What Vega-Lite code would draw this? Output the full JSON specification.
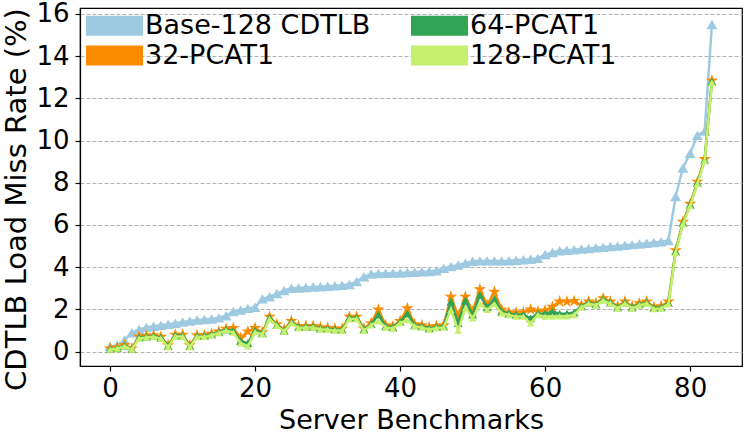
{
  "$schema": "https://vega.github.io/schema/vega-lite/v6.json",
  "width": 662,
  "height": 358,
  "autosize": {"type": "none"},
  "padding": {"left": 80, "top": 8, "right": 5, "bottom": 72},
  "config": {
    "font": "DejaVu Sans",
    "view": {"stroke": "black", "strokeWidth": 1.2},
    "axis": {"labelColor": "black", "titleColor": "black", "tickColor": "black", "domainColor": "black", "titleFontWeight": "normal", "domainWidth": 1.2, "tickWidth": 1.2}
  },
  "data": {
    "values": [
      {"i":0,"Base-128 CDTLB":0.25,"32-PCAT1":0.15,"64-PCAT1":0.12,"128-PCAT1":0.1},
      {"i":1,"Base-128 CDTLB":0.3,"32-PCAT1":0.2,"64-PCAT1":0.17,"128-PCAT1":0.15},
      {"i":2,"Base-128 CDTLB":0.55,"32-PCAT1":0.32,"64-PCAT1":0.28,"128-PCAT1":0.25},
      {"i":3,"Base-128 CDTLB":0.9,"32-PCAT1":0.15,"64-PCAT1":0.12,"128-PCAT1":0.1},
      {"i":4,"Base-128 CDTLB":1.05,"32-PCAT1":0.72,"64-PCAT1":0.68,"128-PCAT1":0.63},
      {"i":5,"Base-128 CDTLB":1.15,"32-PCAT1":0.75,"64-PCAT1":0.7,"128-PCAT1":0.67},
      {"i":6,"Base-128 CDTLB":1.2,"32-PCAT1":0.78,"64-PCAT1":0.74,"128-PCAT1":0.7},
      {"i":7,"Base-128 CDTLB":1.25,"32-PCAT1":0.7,"64-PCAT1":0.66,"128-PCAT1":0.62},
      {"i":8,"Base-128 CDTLB":1.3,"32-PCAT1":0.3,"64-PCAT1":0.26,"128-PCAT1":0.22},
      {"i":9,"Base-128 CDTLB":1.35,"32-PCAT1":0.8,"64-PCAT1":0.76,"128-PCAT1":0.72},
      {"i":10,"Base-128 CDTLB":1.4,"32-PCAT1":0.8,"64-PCAT1":0.76,"128-PCAT1":0.72},
      {"i":11,"Base-128 CDTLB":1.45,"32-PCAT1":0.3,"64-PCAT1":0.26,"128-PCAT1":0.22},
      {"i":12,"Base-128 CDTLB":1.5,"32-PCAT1":0.78,"64-PCAT1":0.74,"128-PCAT1":0.7},
      {"i":13,"Base-128 CDTLB":1.52,"32-PCAT1":0.78,"64-PCAT1":0.74,"128-PCAT1":0.7},
      {"i":14,"Base-128 CDTLB":1.55,"32-PCAT1":0.85,"64-PCAT1":0.82,"128-PCAT1":0.78},
      {"i":15,"Base-128 CDTLB":1.6,"32-PCAT1":0.95,"64-PCAT1":0.92,"128-PCAT1":0.88},
      {"i":16,"Base-128 CDTLB":1.7,"32-PCAT1":1.08,"64-PCAT1":1.04,"128-PCAT1":1.0},
      {"i":17,"Base-128 CDTLB":1.9,"32-PCAT1":1.12,"64-PCAT1":0.98,"128-PCAT1":0.9},
      {"i":18,"Base-128 CDTLB":1.97,"32-PCAT1":0.65,"64-PCAT1":0.5,"128-PCAT1":0.4},
      {"i":19,"Base-128 CDTLB":2.05,"32-PCAT1":0.95,"64-PCAT1":0.4,"128-PCAT1":0.25},
      {"i":20,"Base-128 CDTLB":2.1,"32-PCAT1":1.12,"64-PCAT1":1.0,"128-PCAT1":0.92},
      {"i":21,"Base-128 CDTLB":2.5,"32-PCAT1":0.92,"64-PCAT1":0.87,"128-PCAT1":0.83},
      {"i":22,"Base-128 CDTLB":2.6,"32-PCAT1":1.65,"64-PCAT1":1.6,"128-PCAT1":1.55},
      {"i":23,"Base-128 CDTLB":2.75,"32-PCAT1":1.3,"64-PCAT1":1.26,"128-PCAT1":1.22},
      {"i":24,"Base-128 CDTLB":2.9,"32-PCAT1":1.05,"64-PCAT1":1.0,"128-PCAT1":0.97},
      {"i":25,"Base-128 CDTLB":3.0,"32-PCAT1":1.45,"64-PCAT1":1.4,"128-PCAT1":1.36},
      {"i":26,"Base-128 CDTLB":3.02,"32-PCAT1":1.2,"64-PCAT1":1.16,"128-PCAT1":1.12},
      {"i":27,"Base-128 CDTLB":3.04,"32-PCAT1":1.22,"64-PCAT1":1.18,"128-PCAT1":1.14},
      {"i":28,"Base-128 CDTLB":3.06,"32-PCAT1":1.22,"64-PCAT1":1.18,"128-PCAT1":1.14},
      {"i":29,"Base-128 CDTLB":3.08,"32-PCAT1":1.15,"64-PCAT1":1.1,"128-PCAT1":1.06},
      {"i":30,"Base-128 CDTLB":3.1,"32-PCAT1":1.12,"64-PCAT1":1.08,"128-PCAT1":1.04},
      {"i":31,"Base-128 CDTLB":3.12,"32-PCAT1":1.1,"64-PCAT1":1.05,"128-PCAT1":1.0},
      {"i":32,"Base-128 CDTLB":3.15,"32-PCAT1":1.08,"64-PCAT1":1.04,"128-PCAT1":1.0},
      {"i":33,"Base-128 CDTLB":3.18,"32-PCAT1":1.65,"64-PCAT1":1.6,"128-PCAT1":1.55},
      {"i":34,"Base-128 CDTLB":3.32,"32-PCAT1":1.65,"64-PCAT1":1.6,"128-PCAT1":1.55},
      {"i":35,"Base-128 CDTLB":3.55,"32-PCAT1":1.1,"64-PCAT1":1.05,"128-PCAT1":1.0},
      {"i":36,"Base-128 CDTLB":3.68,"32-PCAT1":1.35,"64-PCAT1":1.3,"128-PCAT1":1.25},
      {"i":37,"Base-128 CDTLB":3.7,"32-PCAT1":2.0,"64-PCAT1":1.75,"128-PCAT1":1.45},
      {"i":38,"Base-128 CDTLB":3.71,"32-PCAT1":1.25,"64-PCAT1":1.2,"128-PCAT1":1.15},
      {"i":39,"Base-128 CDTLB":3.72,"32-PCAT1":1.2,"64-PCAT1":1.15,"128-PCAT1":1.1},
      {"i":40,"Base-128 CDTLB":3.73,"32-PCAT1":1.45,"64-PCAT1":1.4,"128-PCAT1":1.35},
      {"i":41,"Base-128 CDTLB":3.75,"32-PCAT1":2.05,"64-PCAT1":1.8,"128-PCAT1":1.5},
      {"i":42,"Base-128 CDTLB":3.76,"32-PCAT1":1.3,"64-PCAT1":1.25,"128-PCAT1":1.2},
      {"i":43,"Base-128 CDTLB":3.78,"32-PCAT1":1.25,"64-PCAT1":1.2,"128-PCAT1":1.15},
      {"i":44,"Base-128 CDTLB":3.8,"32-PCAT1":1.15,"64-PCAT1":1.1,"128-PCAT1":1.05},
      {"i":45,"Base-128 CDTLB":3.83,"32-PCAT1":1.22,"64-PCAT1":1.17,"128-PCAT1":1.12},
      {"i":46,"Base-128 CDTLB":3.95,"32-PCAT1":1.25,"64-PCAT1":1.2,"128-PCAT1":1.15},
      {"i":47,"Base-128 CDTLB":4.03,"32-PCAT1":2.6,"64-PCAT1":2.37,"128-PCAT1":1.98},
      {"i":48,"Base-128 CDTLB":4.1,"32-PCAT1":1.7,"64-PCAT1":1.35,"128-PCAT1":1.0},
      {"i":49,"Base-128 CDTLB":4.19,"32-PCAT1":2.6,"64-PCAT1":2.42,"128-PCAT1":2.06},
      {"i":50,"Base-128 CDTLB":4.28,"32-PCAT1":1.9,"64-PCAT1":1.75,"128-PCAT1":1.58},
      {"i":51,"Base-128 CDTLB":4.3,"32-PCAT1":2.96,"64-PCAT1":2.69,"128-PCAT1":2.26},
      {"i":52,"Base-128 CDTLB":4.3,"32-PCAT1":2.21,"64-PCAT1":2.1,"128-PCAT1":1.98},
      {"i":53,"Base-128 CDTLB":4.3,"32-PCAT1":2.84,"64-PCAT1":2.5,"128-PCAT1":2.25},
      {"i":54,"Base-128 CDTLB":4.3,"32-PCAT1":1.98,"64-PCAT1":1.9,"128-PCAT1":1.82},
      {"i":55,"Base-128 CDTLB":4.31,"32-PCAT1":1.85,"64-PCAT1":1.8,"128-PCAT1":1.74},
      {"i":56,"Base-128 CDTLB":4.33,"32-PCAT1":1.85,"64-PCAT1":1.75,"128-PCAT1":1.66},
      {"i":57,"Base-128 CDTLB":4.35,"32-PCAT1":1.85,"64-PCAT1":1.75,"128-PCAT1":1.66},
      {"i":58,"Base-128 CDTLB":4.38,"32-PCAT1":2.0,"64-PCAT1":1.58,"128-PCAT1":1.34},
      {"i":59,"Base-128 CDTLB":4.42,"32-PCAT1":1.9,"64-PCAT1":1.8,"128-PCAT1":1.74},
      {"i":60,"Base-128 CDTLB":4.6,"32-PCAT1":1.95,"64-PCAT1":1.8,"128-PCAT1":1.66},
      {"i":61,"Base-128 CDTLB":4.7,"32-PCAT1":2.13,"64-PCAT1":1.9,"128-PCAT1":1.66},
      {"i":62,"Base-128 CDTLB":4.78,"32-PCAT1":2.37,"64-PCAT1":1.8,"128-PCAT1":1.68},
      {"i":63,"Base-128 CDTLB":4.8,"32-PCAT1":2.37,"64-PCAT1":1.8,"128-PCAT1":1.68},
      {"i":64,"Base-128 CDTLB":4.83,"32-PCAT1":2.4,"64-PCAT1":1.85,"128-PCAT1":1.74},
      {"i":65,"Base-128 CDTLB":4.86,"32-PCAT1":2.2,"64-PCAT1":2.15,"128-PCAT1":2.1},
      {"i":66,"Base-128 CDTLB":4.89,"32-PCAT1":2.37,"64-PCAT1":2.32,"128-PCAT1":2.28},
      {"i":67,"Base-128 CDTLB":4.92,"32-PCAT1":2.29,"64-PCAT1":2.24,"128-PCAT1":2.2},
      {"i":68,"Base-128 CDTLB":4.95,"32-PCAT1":2.53,"64-PCAT1":2.48,"128-PCAT1":2.43},
      {"i":69,"Base-128 CDTLB":4.98,"32-PCAT1":2.37,"64-PCAT1":2.32,"128-PCAT1":2.28},
      {"i":70,"Base-128 CDTLB":5.01,"32-PCAT1":2.15,"64-PCAT1":2.1,"128-PCAT1":2.05},
      {"i":71,"Base-128 CDTLB":5.04,"32-PCAT1":2.37,"64-PCAT1":2.32,"128-PCAT1":2.28},
      {"i":72,"Base-128 CDTLB":5.07,"32-PCAT1":2.15,"64-PCAT1":2.1,"128-PCAT1":2.05},
      {"i":73,"Base-128 CDTLB":5.1,"32-PCAT1":2.29,"64-PCAT1":2.24,"128-PCAT1":2.2},
      {"i":74,"Base-128 CDTLB":5.13,"32-PCAT1":2.37,"64-PCAT1":2.32,"128-PCAT1":2.28},
      {"i":75,"Base-128 CDTLB":5.17,"32-PCAT1":2.12,"64-PCAT1":2.07,"128-PCAT1":2.02},
      {"i":76,"Base-128 CDTLB":5.21,"32-PCAT1":2.15,"64-PCAT1":2.1,"128-PCAT1":2.05},
      {"i":77,"Base-128 CDTLB":5.27,"32-PCAT1":2.37,"64-PCAT1":2.3,"128-PCAT1":2.25},
      {"i":78,"Base-128 CDTLB":7.35,"32-PCAT1":4.8,"64-PCAT1":4.75,"128-PCAT1":4.7},
      {"i":79,"Base-128 CDTLB":8.7,"32-PCAT1":6.15,"64-PCAT1":6.1,"128-PCAT1":6.05},
      {"i":80,"Base-128 CDTLB":9.4,"32-PCAT1":7.0,"64-PCAT1":6.95,"128-PCAT1":6.9},
      {"i":81,"Base-128 CDTLB":10.25,"32-PCAT1":8.05,"64-PCAT1":8.0,"128-PCAT1":7.95},
      {"i":82,"Base-128 CDTLB":10.45,"32-PCAT1":9.12,"64-PCAT1":9.08,"128-PCAT1":9.05},
      {"i":83,"Base-128 CDTLB":15.5,"32-PCAT1":12.85,"64-PCAT1":12.8,"128-PCAT1":12.75}
    ]
  },
  "transform": [
    {"fold": ["Base-128 CDTLB", "32-PCAT1", "64-PCAT1", "128-PCAT1"], "as": ["series", "value"]}
  ],
  "encoding": {
    "x": {
      "field": "i", "type": "quantitative",
      "scale": {"domain": [-4.15, 87.15], "nice": false, "zero": false},
      "axis": {"values": [0, 20, 40, 60, 80], "title": "Server Benchmarks", "grid": false, "labelFontSize": 26, "titleFontSize": 27, "tickSize": 5, "labelPadding": 4, "titlePadding": 6, "labelFlush": false}
    },
    "y": {
      "field": "value", "type": "quantitative",
      "scale": {"domain": [-0.68, 16.28], "nice": false, "zero": false},
      "axis": {"values": [0, 2, 4, 6, 8, 10, 12, 14, 16], "title": "CDTLB Load Miss Rate (%)", "grid": true, "gridDash": [4, 2], "gridColor": "#b0b0b0", "gridWidth": 1, "labelFontSize": 26, "titleFontSize": 29, "titleY": 191, "tickSize": 5, "labelPadding": 6, "titlePadding": 4}
    },
    "color": {
      "field": "series", "type": "nominal",
      "scale": {"domain": ["Base-128 CDTLB", "32-PCAT1", "64-PCAT1", "128-PCAT1"], "range": ["#9ecae1", "#fb8c00", "#31a354", "#c4f06c"]},
      "legend": {
        "orient": "none", "legendX": 2, "legendY": 4, "columns": 2, "title": null,
        "symbolType": "M-3,-1.05H3V1.05H-3Z", "symbolSize": 361, "symbolStrokeWidth": 0, "symbolOffset": 19,
        "labelFontSize": 27, "labelColor": "black", "labelLimit": 500,
        "columnPadding": 36, "rowPadding": 2, "labelOffset": 17,
        "encode": {"symbols": {"update": {"fill": {"scale": "color", "field": "value"}, "strokeWidth": {"value": 0}, "opacity": {"value": 1}}}}
      }
    }
  },
  "layer": [
    {
      "transform": [{"filter": "datum.series == 'Base-128 CDTLB'"}],
      "mark": {"type": "line", "strokeWidth": 2.5, "point": {"shape": "triangle-up", "filled": true, "size": 120, "opacity": 1}}
    },
    {
      "transform": [{"filter": "datum.series == '32-PCAT1'"}],
      "mark": {"type": "line", "strokeWidth": 2.5, "point": {"shape": "M0,-1L0.2245,-0.309L0.951,-0.309L0.363,0.118L0.588,0.809L0,0.382L-0.588,0.809L-0.363,0.118L-0.951,-0.309L-0.2245,-0.309Z", "filled": true, "size": 170, "opacity": 1}}
    },
    {
      "transform": [{"filter": "datum.series == '64-PCAT1'"}],
      "mark": {"type": "line", "strokeWidth": 2.5, "point": {"shape": "triangle-up", "filled": true, "size": 80, "opacity": 1}}
    },
    {
      "transform": [{"filter": "datum.series == '128-PCAT1'"}],
      "mark": {"type": "line", "strokeWidth": 2.5, "point": {"shape": "triangle-up", "filled": true, "size": 55, "opacity": 1}}
    }
  ]
}
